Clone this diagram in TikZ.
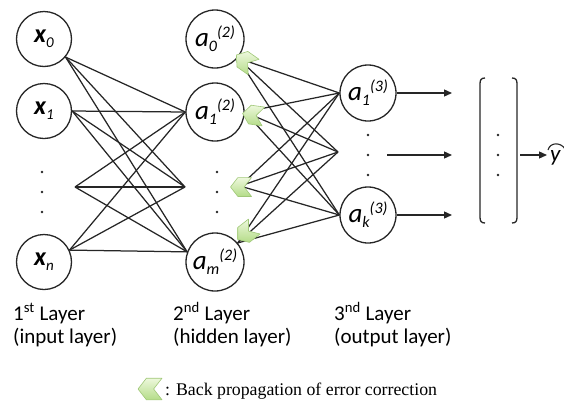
\documentclass[tikz,border=0pt]{standalone}
\usepackage{fontspec}
\newfontfamily\carl{Carlito}
\newfontfamily\tms{Liberation Serif}
\usetikzlibrary{arrows.meta}
\definecolor{ln}{HTML}{262626}
\definecolor{chevtop}{HTML}{EDF8DC}
\definecolor{chevbot}{HTML}{B4DC88}
\definecolor{chevdraw}{HTML}{A0C878}
\newcommand\nlab[3]{{\carl\itshape\fontsize{27}{27}\selectfont #1\raisebox{-5pt}{\fontsize{16}{16}\selectfont #2}\raisebox{9pt}{\fontsize{16}{16}\selectfont #3}}}
\newcommand\xlab[1]{{\carl\bfseries\itshape\fontsize{26}{26}\selectfont x\raisebox{-5pt}{\fontsize{15}{15}\selectfont\mdseries #1}}}
\newcommand\chevronmark[4]{%
  \begin{scope}[shift={(#1,#2)},rotate=#3,scale=#4]
    \path[draw=chevdraw,line width=0.6pt,top color=chevtop,bottom color=chevbot,line join=round]
      (-10,0) -- (-3,9) -- (10,9) -- (3,0) -- (10,-9) -- (-3,-9) -- cycle;
  \end{scope}}
\begin{document}
\begin{tikzpicture}[x=1pt,y=-1pt,
  neuron/.style={circle,draw=ln,line width=1.3pt,inner sep=0pt,fill=white},
  link/.style={draw=ln,line width=1.25pt},
  outarrow/.style={draw=ln,line width=1.3pt,-{Triangle[length=8pt,width=7pt]}},
  dotmark/.style={circle,fill=ln,inner sep=0pt,minimum size=2.8pt},
  layerlab/.style={anchor=base west,inner sep=0pt,font=\carl\fontsize{21}{21}\selectfont}]
\useasboundingbox (0,0) rectangle (564,402);

% input layer
\node[neuron,minimum size=55pt] (x0) at (44,39) {\xlab{0}};
\node[neuron,minimum size=55pt] (x1) at (44,111) {\xlab{1}};
\node[neuron,minimum size=55pt] (xn) at (44,262) {\xlab{n}};
\foreach \yy/\nm in {172/i1,192/i2,212/i3} \node[dotmark] (\nm) at (42,\yy) {};
\coordinate (xd) at (75,187);

% hidden layer
\node[neuron,minimum size=58pt] (a0) at (215,39) {\nlab{a}{0}{(2)}};
\node[neuron,minimum size=58pt] (a1) at (215,112) {\nlab{a}{1}{(2)}};
\node[neuron,minimum size=58pt] (am) at (215,262) {\nlab{a}{m}{(2)}};
\foreach \yy/\nm in {172/h1,192/h2,212/h3} \node[dotmark] (\nm) at (217,\yy) {};
\coordinate (hdin) at (185,187);
\coordinate (hdout) at (240,186);

% output layer
\node[neuron,minimum size=56pt] (o1) at (368,93) {\nlab{a}{1}{(3)}};
\node[neuron,minimum size=56pt] (ok) at (368,215) {\nlab{a}{k}{(3)}};
\foreach \yy/\nm in {135/q1,155/q2,175/q3} \node[dotmark] (\nm) at (368,\yy) {};
\coordinate (od) at (338,152);
\coordinate (odout) at (387,155);

% input -> hidden
\foreach \s in {x0.-40,x1.east,xd,xn.25}
  \foreach \t in {a1.west,hdin,am.160}
    \draw[link] (\s) -- (\t);

% hidden -> output
\foreach \s in {a0.-40,a1.east,hdout,am.40}
  \foreach \t in {o1.west,od,ok.west}
    \draw[link] (\s) -- (\t);

% back-propagation chevrons
\chevronmark{245}{61}{-35}{1.05}
\chevronmark{253}{115}{-8}{1.05}
\chevronmark{241}{187}{0}{1.05}
\chevronmark{246}{233}{38}{1.05}

% output arrows
\coordinate (e1) at (452,93);
\coordinate (e2) at (452,155);
\coordinate (e3) at (452,215);
\draw[outarrow] (o1.east) -- (e1);
\draw[outarrow] (odout) -- (e2);
\draw[outarrow] (ok.east) -- (e3);

% bracket vector
\draw[ln,line width=1.3pt] (485,78) .. controls (481,78) and (480,80) .. (480,84) -- (480,217) .. controls (480,221) and (481,223) .. (485,223);
\draw[ln,line width=1.3pt] (512,78) .. controls (516,78) and (517,80) .. (517,84) -- (517,217) .. controls (517,221) and (516,223) .. (512,223);
\foreach \yy/\nm in {135/b1,155/b2,175/b3} \node[dotmark] (\nm) at (498,\yy) {};
\coordinate (bout) at (520,155);
\node[anchor=base west,inner sep=0pt,font=\carl\itshape\fontsize{23}{23}\selectfont] (yhat) at (550,161) {y};
\draw[ln,line width=1.1pt] (548,150) .. controls (550,142) and (561,142) .. (565,149);
\draw[outarrow] (bout) -- (547,155);

% layer labels
\node[layerlab] (l1a) at (13,320) {1\textsuperscript{st} Layer};
\node[layerlab] (l1b) at (13,343) {(input layer)};
\node[layerlab] (l2a) at (173,320) {2\textsuperscript{nd} Layer};
\node[layerlab] (l2b) at (173,343) {(hidden layer)};
\node[layerlab] (l3a) at (334,320) {3\textsuperscript{nd} Layer};
\node[layerlab] (l3b) at (334,343) {(output layer)};

% legend
\chevronmark{150}{389}{0}{1.2}
\node[anchor=base west,inner sep=0pt,font=\tms\fontsize{17.8}{17.8}\selectfont] (leg) at (165,395) {: Back propagation of error correction};
\end{tikzpicture}
\end{document}
